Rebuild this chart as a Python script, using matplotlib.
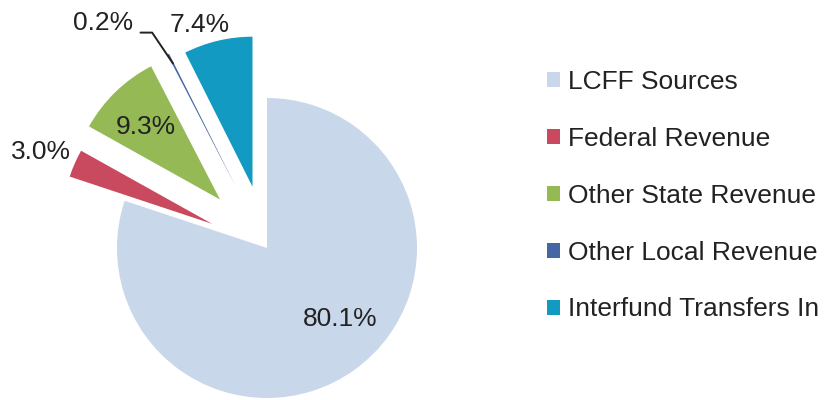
import numpy as np
import matplotlib.pyplot as plt

plt.rcParams['font.family'] = ['Liberation Sans', 'DejaVu Sans']

# Data
categories = ['LCFF Sources', 'Federal Revenue', 'Other State Revenue',
              'Other Local Revenue', 'Interfund Transfers In']
shares = [80.1, 3.0, 9.3, 0.2, 7.4]
pct_labels = ['80.1%', '3.0%', '9.3%', '0.2%', '7.4%']

# Style
colors = ['#c9d7eb', '#c94a5e', '#95b955', '#4467a3', '#129ac2']
explode = [0.0, 0.40, 0.45, 0.45, 0.42]
# label positions in pie units (radius = 1)
label_pos = [(0.49, -0.47), (-1.51, 0.64), (-0.81, 0.81), (-1.09, 1.50), (-0.45, 1.49)]
text_color = '#222222'

fig = plt.figure(figsize=(8.24, 4.0), dpi=100)
ax = fig.add_axes([0, 0, 1, 1])

wedges, _ = ax.pie(shares, colors=colors, explode=explode, startangle=90,
                   counterclock=False, radius=1.0, center=(0, 0),
                   wedgeprops=dict(linewidth=0))

# pie center at pixel (267, 248), radius 150 px
ax.set_xlim(-267 / 150, (824 - 267) / 150)
ax.set_ylim(-(400 - 248) / 150, 248 / 150)
ax.set_aspect('equal')
ax.axis('off')

for i, (txt, (x, y)) in enumerate(zip(pct_labels, label_pos)):
    if i == 3:
        # leader line to the thin slice
        w = wedges[i]
        mid = np.radians((w.theta1 + w.theta2) / 2)
        cx, cy = w.center
        tip = (cx + 0.93 * np.cos(mid), cy + 0.93 * np.sin(mid))
        ax.annotate(txt, xy=tip, xytext=(x, y), ha='center', va='center',
                    fontsize=19, color=text_color,
                    arrowprops=dict(arrowstyle='-', color='#222222', lw=1.4,
                                    relpos=(1.0, 0.1), shrinkA=3, shrinkB=0,
                                    connectionstyle='angle,angleA=0,angleB=124,rad=0'))
    else:
        ax.text(x, y, txt, ha='center', va='center', fontsize=19, color=text_color)

ax.legend(wedges, categories, loc='upper left', bbox_to_anchor=(0.651, 0.8525),
          bbox_transform=fig.transFigure, frameon=False, fontsize=19,
          handlelength=0.5, handleheight=0.5, handletextpad=0.3,
          labelspacing=1.25, labelcolor=text_color, borderaxespad=0)

fig.savefig('out.png', dpi=100)
